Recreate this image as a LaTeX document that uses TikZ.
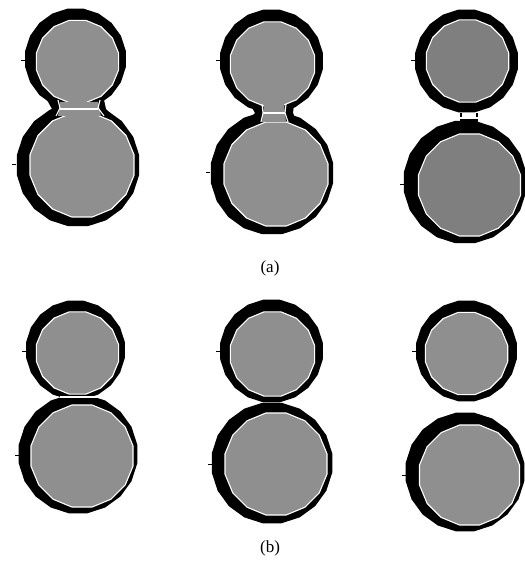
\documentclass[tikz,border=0pt]{standalone}
\usepackage{fontspec}
\setmainfont{Liberation Serif}
\definecolor{gA}{HTML}{8F8F8F}
\definecolor{gB}{HTML}{7F7F7F}
\tikzset{
  ringfill/.style={fill=black},
  corefill/.style={draw=white, line width=1.1pt, line join=round},
  tick/.style={draw=black, line width=1pt},
  caption/.style={font=\fontsize{17}{19}\selectfont, inner sep=0pt}
}
\newcommand\ringshape[3]{\fill[ringfill] plot[domain=0:360,samples=21] ({#1+#3*cos(\x+9)},{#2+#3*sin(\x+9)}) -- cycle;}
\newcommand\coreshape[4]{\filldraw[corefill, fill=#4] plot[domain=0:360,samples=17] ({#1+#3*cos(\x+11.25)},{#2+#3*sin(\x+11.25)}) -- cycle;}
\begin{document}
\begin{tikzpicture}[x=1pt,y=-1pt]
\useasboundingbox (0,0) rectangle (524,569);
% ---------- (a) left ----------
\ringshape{75.5}{59}{51}
\ringshape{78}{165}{62}
\fill[black] (47,100) -- (104,100) -- (106,109) -- (114,118) -- (42,118) -- (52,109) -- cycle;
\coreshape{77.5}{61.5}{42}{gA}
\coreshape{82}{165}{53}{gA}
\fill[gA] (60,102) -- (98,102) -- (101,116) -- (58,116) -- cycle;
\draw[white, line width=1.1pt] (58,100) -- (60,108) -- (56,116);
\draw[white, line width=1.1pt] (100,100) -- (98,108) -- (104,116);
\draw[white, line width=2pt] (60,109) -- (98,109);
\draw[tick] (21,61) -- (25,61);
\draw[tick] (12,165) -- (16,165);
% ---------- (a) middle ----------
\ringshape{271.5}{61}{52}
\ringshape{272}{173}{62}
\fill[black] (250,104) -- (294,104) -- (293,113) -- (297,122) -- (247,122) -- (255,113) -- cycle;
\coreshape{272.5}{64}{43}{gA}
\coreshape{276}{174}{53}{gA}
\fill[gA] (264,104) -- (284,104) -- (286,122) -- (262,122) -- cycle;
\draw[white, line width=1.1pt] (262,104) -- (263,113) -- (261,122);
\draw[white, line width=1.1pt] (286,104) -- (285,113) -- (288,122);
\draw[white, line width=2pt] (263,113) -- (285,113);
\draw[tick] (216,61) -- (220,61);
\draw[tick] (206,173) -- (210,173);
% ---------- (a) right ----------
\ringshape{466.5}{61}{52}
\ringshape{465}{182}{62}
\fill[black] (460,119) rectangle (478,133);
\coreshape{467.5}{61}{42}{gB}
\coreshape{469.5}{185}{52}{gB}
\draw[black, line width=1.5pt, dash pattern=on 4pt off 3pt] (461,106) -- (461,124);
\draw[black, line width=1.5pt, dash pattern=on 4pt off 3pt] (477,106) -- (477,124);
\draw[tick] (411,61) -- (415,61);
\draw[tick] (400,185) -- (404,185);
\node[caption] (capa) at (270,268) {(a)};
% ---------- (b) left ----------
\ringshape{75.5}{350}{50}
\ringshape{78}{454}{60}
\coreshape{77.5}{353}{42}{gA}
\coreshape{82}{456}{52}{gA}
\draw[white, line width=1.5pt] (60,397) -- (98,397);
\draw[tick] (22,351) -- (26,351);
\draw[tick] (15,455) -- (19,455);
% ---------- (b) middle ----------
\ringshape{271.5}{351}{52}
\ringshape{272}{463}{61}
\coreshape{272.5}{354}{43}{gA}
\coreshape{276}{464}{52}{gA}
\draw[tick] (216,351) -- (220,351);
\draw[tick] (208,464) -- (212,464);
% ---------- (b) right ----------
\ringshape{466.5}{351}{51}
\ringshape{465}{472}{60}
\coreshape{466.5}{353.5}{42}{gA}
\coreshape{469.5}{475}{51}{gA}
\draw[tick] (412,351) -- (416,351);
\draw[tick] (402,475) -- (406,475);
\node[caption] (capb) at (270,548) {(b)};
\end{tikzpicture}
\end{document}
